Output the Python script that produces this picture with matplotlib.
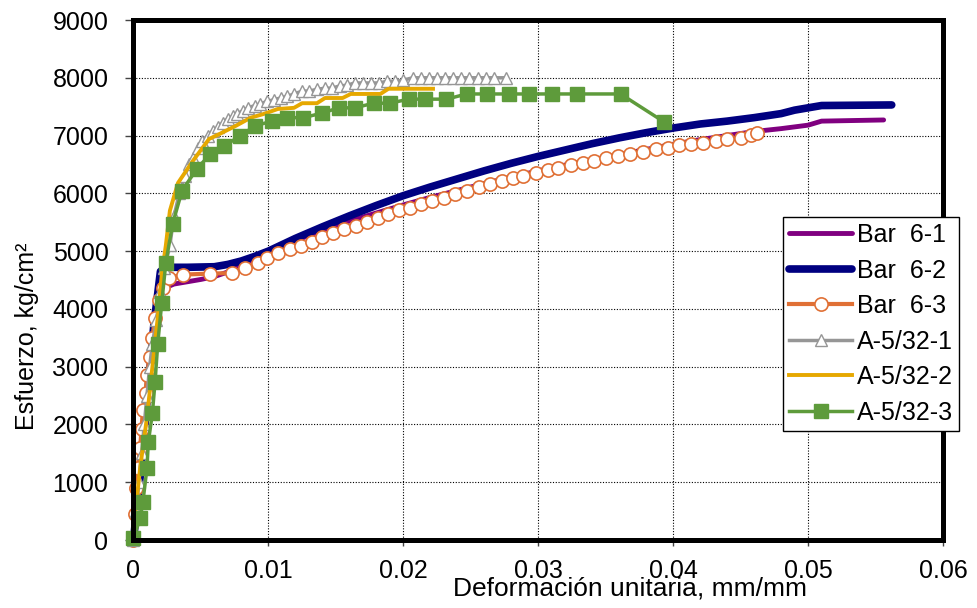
import numpy as np
import matplotlib
matplotlib.use("Agg")
import matplotlib.pyplot as plt
from matplotlib.ticker import FuncFormatter, MultipleLocator

plt.rcParams['font.family'] = ['Liberation Sans', 'DejaVu Sans']

# datos (deformacion, esfuerzo)
bar61 = [(0, 0), (0.0005, 1000), (0.001, 2200), (0.0015, 3400), (0.002, 4200),
         (0.0025, 4380), (0.003, 4430), (0.004, 4470), (0.005, 4510), (0.006, 4560),
         (0.007, 4640), (0.008, 4750), (0.009, 4870), (0.010, 4980), (0.012, 5180),
         (0.014, 5360), (0.016, 5520), (0.018, 5660), (0.020, 5800), (0.022, 5930),
         (0.024, 6050), (0.026, 6170), (0.028, 6280), (0.030, 6390), (0.032, 6490),
         (0.034, 6580), (0.036, 6670), (0.038, 6760), (0.040, 6850), (0.042, 6930),
         (0.044, 7000), (0.046, 7070), (0.048, 7120), (0.050, 7180), (0.051, 7250),
         (0.0556, 7270)]

bar62 = [(0, 0), (0.0005, 1100), (0.001, 2400), (0.0015, 3700), (0.002, 4650),
         (0.0025, 4720), (0.004, 4720), (0.006, 4730), (0.007, 4770), (0.008, 4830),
         (0.009, 4910), (0.010, 5000), (0.012, 5220), (0.014, 5420), (0.016, 5610),
         (0.018, 5790), (0.020, 5960), (0.022, 6110), (0.024, 6250), (0.026, 6390),
         (0.028, 6520), (0.030, 6640), (0.032, 6750), (0.034, 6860), (0.036, 6960),
         (0.038, 7050), (0.040, 7130), (0.042, 7200), (0.044, 7250), (0.046, 7310),
         (0.048, 7380), (0.049, 7440), (0.051, 7520), (0.0562, 7530)]

bar63 = [(0, 0), (0.0001, 450), (0.0002, 900), (0.0003, 1240), (0.0005, 1600),
         (0.0006, 1930), (0.0007, 2250), (0.0009, 2540), (0.0010, 2850), (0.0012, 3160),
         (0.0014, 3500), (0.0016, 3850), (0.0019, 4150), (0.0022, 4370), (0.0026, 4540),
         (0.0037, 4594), (0.0057, 4611), (0.0073, 4620), (0.0083, 4715), (0.0092, 4801),
         (0.0099, 4888), (0.0107, 4974), (0.0116, 5043), (0.0124, 5095), (0.0132, 5164),
         (0.0140, 5250), (0.0148, 5320), (0.0156, 5389), (0.0165, 5440), (0.0173, 5510),
         (0.0181, 5579), (0.0189, 5648), (0.0197, 5717), (0.0205, 5751), (0.0213, 5820),
         (0.0221, 5872), (0.0230, 5924), (0.0238, 5993), (0.0247, 6045), (0.0256, 6114),
         (0.0264, 6166), (0.0273, 6218), (0.0281, 6270), (0.0289, 6304), (0.0298, 6356),
         (0.0307, 6408), (0.0315, 6442), (0.0324, 6494), (0.0333, 6528), (0.0341, 6563),
         (0.0350, 6610), (0.0359, 6649), (0.0368, 6675), (0.0378, 6718), (0.0387, 6760),
         (0.0396, 6788), (0.0404, 6830), (0.0413, 6857), (0.0422, 6874), (0.0432, 6908),
         (0.0440, 6943), (0.0450, 6960), (0.0458, 7012), (0.0462, 7047)]

a1 = [(0, 0), (0.0002, 500), (0.0004, 1000), (0.0006, 1500), (0.0008, 2000),
      (0.0010, 2500), (0.0012, 3000), (0.0014, 3400), (0.0017, 3800), (0.0020, 4300),
      (0.0023, 4700), (0.0027, 5100), (0.0030, 5600), (0.0034, 6000), (0.0038, 6300),
      (0.0041, 6500), (0.0044, 6620), (0.0048, 6780), (0.0051, 6910), (0.0055, 7000),
      (0.0059, 7080), (0.0063, 7150), (0.0066, 7220), (0.0070, 7290), (0.0074, 7340),
      (0.0077, 7380), (0.0081, 7430), (0.0085, 7480), (0.0090, 7520), (0.0094, 7550),
      (0.0099, 7590), (0.0104, 7620), (0.0109, 7650), (0.0114, 7680), (0.0119, 7720),
      (0.0125, 7770), (0.0130, 7770), (0.0136, 7800), (0.0142, 7820), (0.0147, 7820),
      (0.0153, 7860), (0.0158, 7870), (0.0164, 7910), (0.0170, 7910), (0.0176, 7910),
      (0.0182, 7910), (0.0188, 7940), (0.0194, 7940), (0.0200, 7960), (0.0207, 8000),
      (0.0213, 8000), (0.0219, 8000), (0.0225, 8000), (0.0231, 8000), (0.0237, 8000),
      (0.0243, 8000), (0.0249, 8000), (0.0255, 8000), (0.0261, 8000), (0.0267, 8000),
      (0.0276, 8000)]

a2 = [(0, 0), (0.0001, 400), (0.0005, 1260), (0.0010, 2120), (0.0014, 2990),
      (0.0018, 3850), (0.0021, 4600), (0.0024, 5100), (0.0027, 5700), (0.0033, 6180),
      (0.0044, 6560), (0.0056, 6940), (0.0064, 7030), (0.0076, 7170), (0.0087, 7310),
      (0.0096, 7370), (0.0107, 7460), (0.0119, 7480), (0.0125, 7560), (0.0136, 7560),
      (0.0142, 7650), (0.0155, 7650), (0.0161, 7720), (0.0183, 7720), (0.0189, 7810),
      (0.0222, 7810)]

a3 = [(0, 30), (0.0005, 380), (0.0007, 660), (0.0010, 1240), (0.0011, 1690),
      (0.0014, 2190), (0.0016, 2730), (0.0018, 3400), (0.0021, 4110), (0.0024, 4800),
      (0.0029, 5470), (0.0036, 6045), (0.0047, 6425), (0.0057, 6680), (0.0067, 6820),
      (0.0079, 6990), (0.0090, 7170), (0.0103, 7250), (0.0114, 7310), (0.0126, 7310),
      (0.0140, 7390), (0.0152, 7480), (0.0164, 7480), (0.0178, 7560), (0.0190, 7560),
      (0.0204, 7630), (0.0216, 7630), (0.0232, 7630), (0.0247, 7720), (0.0262, 7720),
      (0.0278, 7720), (0.0293, 7720), (0.0310, 7720), (0.0329, 7720), (0.0361, 7720),
      (0.0393, 7240)]

labels = ['Bar  6-1', 'Bar  6-2', 'Bar  6-3', 'A-5/32-1', 'A-5/32-2', 'A-5/32-3']

fig = plt.figure(figsize=(9.77, 6.08), dpi=100)
ax = fig.add_axes([0.1366, 0.1118, 0.9652 - 0.1366, 0.9671 - 0.1118])


def xy(d):
    a = np.array(d)
    return a[:, 0], a[:, 1]


x, y = xy(bar61)
ax.plot(x, y, color='#800080', lw=3.5, label=labels[0], clip_on=False, solid_capstyle='round')
x, y = xy(bar62)
ax.plot(x, y, color='#000080', lw=5.5, label=labels[1], clip_on=False, solid_capstyle='round')
x, y = xy(bar63)
ax.plot(x, y, color='#E07035', lw=3, marker='o', ms=9.5, mfc='white', mec='#E07035',
        mew=1.2, label=labels[2], clip_on=False)
x, y = xy(a1)
ax.plot(x, y, color='#969696', lw=2.5, marker='^', ms=8, mfc='white', mec='#969696',
        mew=1, label=labels[3], clip_on=False)
x, y = xy(a2)
ax.plot(x, y, color='#E6A800', lw=2.8, label=labels[4], clip_on=False)
x, y = xy(a3)
ax.plot(x, y, color='#5E9B3B', lw=2.5, marker='s', ms=10, mfc='#5E9B3B', mec='#5E9B3B',
        label=labels[5], clip_on=False)

ax.set_xlim(0, 0.06)
ax.set_ylim(0, 9000)
ax.xaxis.set_major_locator(MultipleLocator(0.01))
ax.yaxis.set_major_locator(MultipleLocator(1000))
ax.xaxis.set_major_formatter(FuncFormatter(lambda v, p: '%g' % round(v, 3)))
ax.grid(True, color='black', linestyle=(0, (1, 1.5)), linewidth=0.8)
ax.set_axisbelow(True)

for s in ax.spines.values():
    s.set_linewidth(3.6)
    s.set_zorder(5)

ax.tick_params(axis='both', direction='out', width=1, labelsize=18, color='#444444')
ax.tick_params(axis='y', length=6, pad=12)
ax.tick_params(axis='x', length=4.5, pad=9.5)

ax.set_xlabel('Deformación unitaria, mm/mm', fontsize=19)
ax.set_ylabel('Esfuerzo, kg/cm²', fontsize=18)
ax.xaxis.set_label_coords(0.613, -0.071)
ax.yaxis.set_label_coords(-0.117, 0.392)

leg = ax.legend(loc='upper left', bbox_to_anchor=(783 / 977, 1 - 217 / 608),
                bbox_transform=fig.transFigure, borderaxespad=0, fontsize=18,
                fancybox=False, framealpha=1, edgecolor='black', handlelength=2.5,
                handletextpad=0.2, labelspacing=0.46, borderpad=0.25)
leg.get_frame().set_linewidth(1)
leg.set_zorder(10)

fig.savefig('out.png', dpi=100)
